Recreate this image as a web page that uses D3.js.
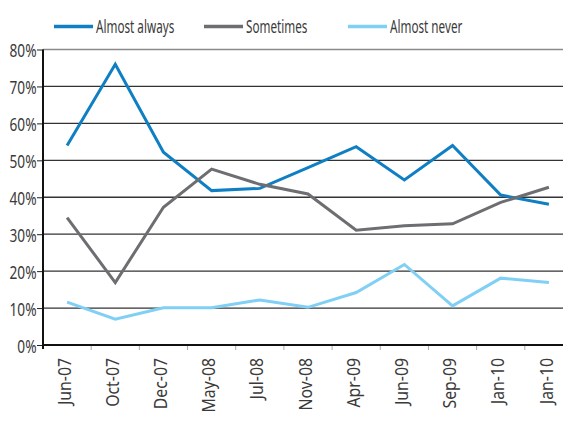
<!DOCTYPE html>
<html>
<head>
<meta charset="utf-8">
<script src="https://cdn.jsdelivr.net/npm/d3@7"></script>
<style>
  body { margin: 0; background: #fff; }
  text { font-family: "Noto Sans", "Open Sans", sans-serif; fill: #3a3a3a; }
</style>
</head>
<body>
<svg id="chart" width="563" height="427"></svg>
<script>
const categories = ["Jun-07", "Oct-07", "Dec-07", "May-08", "Jul-08", "Nov-08", "Apr-09", "Jun-09", "Sep-09", "Jan-10", "Jan-10 "];
const almostAlways = [54, 76, 52.2, 41.8, 42.4, 48, 53.7, 44.7, 54, 40.6, 38.1];
const sometimes = [34.5, 16.9, 37.3, 47.6, 43.5, 40.9, 31.1, 32.3, 32.8, 38.6, 42.7];
const almostNever = [11.6, 7, 10.1, 10.1, 12.2, 10.2, 14.2, 21.8, 10.6, 18.1, 16.9];
const yTicks = [0, 10, 20, 30, 40, 50, 60, 70, 80];

const series = [
  {name: "Almost always", values: almostAlways, colour: "#0f7fc4"},
  {name: "Sometimes", values: sometimes, colour: "#6d6e71"},
  {name: "Almost never", values: almostNever, colour: "#80cff4"}
];

const svg = d3.select("#chart");
const plotLeft = 43, plotRight = 573, plotTop = 49.5, plotBottom = 345;
// horizontal squeeze to mimic the condensed face of the original
const squeezeY = 0.76, squeezeX = 0.88, squeezeLegend = 0.65;
const fontSize = "18px";

const xScale = d3.scaleBand().domain(categories).range([plotLeft, plotRight]);
const yScale = d3.scaleLinear().domain([0, 80]).range([plotBottom, plotTop]);

// gridlines
svg.append("g")
   .selectAll("line")
   .data(yTicks.filter(d => d > 0))
   .enter()
   .append("line")
   .attr("x1", plotLeft).attr("x2", 563)
   .attr("y1", d => yScale(d)).attr("y2", d => yScale(d))
   .attr("stroke", d => d === 80 ? "#8a8a8a" : "#333")
   .attr("stroke-width", 1.3);

// y axis
const yAxis = d3.axisLeft(yScale).tickValues(yTicks).tickSize(6).tickFormat(d => d + "%");
const yg = svg.append("g").attr("transform", `translate(${plotLeft},0)`).call(yAxis);
yg.select(".domain").remove();
yg.selectAll(".tick line").attr("stroke", "#222");
yg.selectAll(".tick text")
  .attr("transform", `scale(${squeezeY},1)`)
  .attr("x", -6.5 / squeezeY).attr("dy", "0.4em")
  .style("font-size", fontSize).attr("fill", "#3a3a3a");
svg.append("line").attr("x1", plotLeft).attr("x2", plotLeft).attr("y1", plotTop).attr("y2", plotBottom + 4)
   .attr("stroke", "#111").attr("stroke-width", 2);

// x axis
const xg = svg.append("g").attr("transform", `translate(0,${plotBottom})`)
   .call(d3.axisBottom(xScale).tickSize(0).tickFormat(d => d.trim()));
xg.select(".domain").remove();
xg.selectAll(".tick text")
  .attr("transform", `rotate(-90) scale(${squeezeX},1)`)
  .attr("text-anchor", "end")
  .attr("x", -13 / squeezeX).attr("y", 0).attr("dy", "0.2em")
  .style("font-size", fontSize).attr("fill", "#3a3a3a");
svg.append("g").selectAll("line")
   .data(categories.slice(1))
   .enter()
   .append("line")
   .attr("x1", d => xScale(d)).attr("x2", d => xScale(d))
   .attr("y1", plotBottom).attr("y2", plotBottom + 5)
   .attr("stroke", "#aaa").attr("stroke-width", 1);
svg.append("line").attr("x1", plotLeft - 1).attr("x2", 563).attr("y1", plotBottom).attr("y2", plotBottom)
   .attr("stroke", "#111").attr("stroke-width", 2);

// lines
const line = d3.line()
  .x((d, i) => xScale(categories[i]) + xScale.bandwidth() / 2)
  .y(d => yScale(d));

svg.append("g").selectAll("path")
   .data(series)
   .enter()
   .append("path")
   .attr("fill", "none")
   .attr("stroke", d => d.colour)
   .attr("stroke-width", 3)
   .attr("d", d => line(d.values));

// legend
const legendX = [54, 204, 348];
const legend = svg.append("g");
series.forEach((s, i) => {
  legend.append("line")
        .attr("x1", legendX[i]).attr("x2", legendX[i] + 39)
        .attr("y1", 26.5).attr("y2", 26.5)
        .attr("stroke", s.colour).attr("stroke-width", 3.5);
  legend.append("text")
        .attr("transform", `translate(${legendX[i] + 42},26.5) scale(${squeezeLegend},1)`)
        .attr("dy", "0.36em")
        .style("font-size", fontSize)
        .text(s.name);
});
</script>
</body>
</html>
